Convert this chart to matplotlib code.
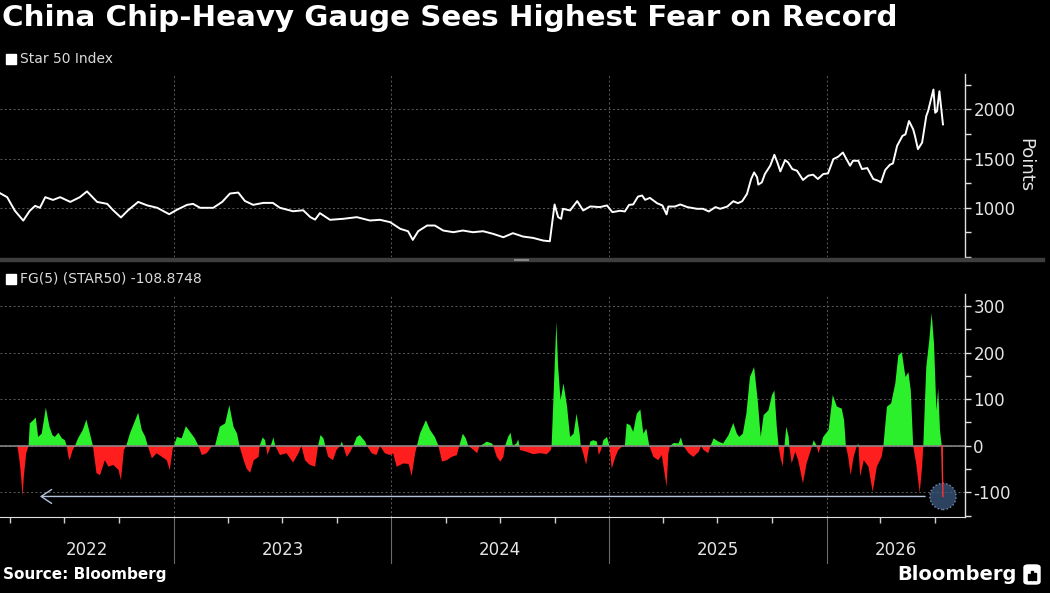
import matplotlib
matplotlib.use('Agg')
import matplotlib.pyplot as plt
import matplotlib.dates as mdates
import matplotlib.transforms as mtransforms
from matplotlib.patches import Rectangle, FancyBboxPatch
from matplotlib.lines import Line2D
import numpy as np
import pandas as pd

plt.rcParams['font.family'] = ['DejaVu Sans']
plt.rcParams['axes.unicode_minus'] = False

# ---- data ----
star_dates = [
    "2022-03-15", "2022-03-27", "2022-04-09", "2022-04-23", "2022-05-04", "2022-05-13", "2022-05-21", "2022-05-30",
    "2022-06-12", "2022-06-24", "2022-07-11", "2022-07-27", "2022-08-08", "2022-08-25", "2022-09-11", "2022-09-21",
    "2022-10-04", "2022-10-16", "2022-11-02", "2022-11-17", "2022-12-04", "2022-12-24",
    "2023-01-06", "2023-01-23", "2023-02-02", "2023-02-14", "2023-03-08", "2023-03-23", "2023-04-05", "2023-04-19",
    "2023-04-30", "2023-05-14", "2023-05-31", "2023-06-16", "2023-06-28", "2023-07-20", "2023-08-06", "2023-08-18",
    "2023-08-26", "2023-09-03", "2023-09-20", "2023-10-12", "2023-11-04", "2023-11-26", "2023-12-13", "2023-12-30",
    "2024-01-16", "2024-01-29", "2024-02-06", "2024-02-15", "2024-03-01", "2024-03-14", "2024-03-28", "2024-04-14",
    "2024-04-30", "2024-05-17", "2024-06-03", "2024-06-20", "2024-07-07", "2024-07-23", "2024-08-09", "2024-08-26",
    "2024-09-12", "2024-09-23", "2024-10-01", "2024-10-07", "2024-10-12", "2024-10-15", "2024-10-27", "2024-11-08",
    "2024-11-18", "2024-11-30", "2024-12-16", "2024-12-28",
    "2025-01-06", "2025-01-19", "2025-01-27", "2025-02-03", "2025-02-10", "2025-02-18", "2025-02-25", "2025-03-02",
    "2025-03-10", "2025-03-22", "2025-03-31", "2025-04-07", "2025-04-10", "2025-04-21", "2025-04-30", "2025-05-12",
    "2025-05-28", "2025-06-07", "2025-06-17", "2025-06-28", "2025-07-06", "2025-07-18", "2025-07-28", "2025-08-05",
    "2025-08-12", "2025-08-20", "2025-08-27", "2025-09-01", "2025-09-06", "2025-09-08", "2025-09-14", "2025-09-19",
    "2025-09-28", "2025-10-05", "2025-10-10", "2025-10-15", "2025-10-23", "2025-10-28", "2025-11-04", "2025-11-12",
    "2025-11-22", "2025-12-01", "2025-12-09", "2025-12-17", "2025-12-26",
    "2026-01-03", "2026-01-12", "2026-01-20", "2026-01-28", "2026-02-09", "2026-02-14", "2026-02-23", "2026-03-01",
    "2026-03-10", "2026-03-20", "2026-03-28", "2026-04-02", "2026-04-09", "2026-04-17", "2026-04-22", "2026-04-29",
    "2026-05-08", "2026-05-13", "2026-05-19", "2026-05-26", "2026-05-29", "2026-06-03", "2026-06-10", "2026-06-17",
    "2026-06-20", "2026-06-29", "2026-07-02", "2026-07-05", "2026-07-09", "2026-07-12", "2026-07-15",
]
star_vals = [
    1149, 1108, 970, 870, 970, 1020, 1000, 1108,
    1080, 1108, 1060, 1108, 1167, 1060, 1040, 975,
    902, 975, 1060, 1025, 1000, 935,
    980, 1030, 1040, 1000, 1000, 1060, 1145, 1155,
    1070, 1030, 1050, 1050, 1000, 965, 975, 905,
    880, 946, 878, 888, 905, 871, 878, 854,
    786, 762, 674, 762, 820, 820, 769, 752,
    769, 752, 762, 735, 701, 742, 708, 694,
    667, 660, 1034, 905, 888, 990, 973, 1068,
    973, 1014, 1007, 1024,
    956, 970, 963, 1030, 1034, 1114, 1125, 1081,
    1101, 1047, 1024, 933, 1013, 1013, 1034, 1007,
    990, 990, 963, 1007, 990, 1013, 1067, 1047,
    1067, 1141, 1293, 1360, 1310, 1236, 1259, 1343,
    1428, 1539, 1461, 1370, 1485, 1461, 1394, 1377,
    1283, 1327, 1337, 1293, 1343,
    1350, 1495, 1519, 1562, 1428, 1478, 1478, 1394,
    1404, 1293, 1276, 1259, 1384, 1438, 1451, 1630,
    1731, 1747, 1882, 1798, 1731, 1596, 1663, 1933,
    1983, 2202, 1966, 1983, 2185, 2017, 1848,
]

fg_dates = [
    "2022-04-13", "2022-04-16", "2022-04-19", "2022-04-22", "2022-04-24", "2022-04-28", "2022-05-02", "2022-05-04",
    "2022-05-10", "2022-05-14", "2022-05-18", "2022-05-24", "2022-05-31", "2022-06-06", "2022-06-11", "2022-06-15",
    "2022-06-21", "2022-06-27", "2022-07-02", "2022-07-05", "2022-07-08", "2022-07-10", "2022-07-15", "2022-07-19",
    "2022-07-24", "2022-08-01", "2022-08-07", "2022-08-13", "2022-08-18", "2022-08-24", "2022-08-30", "2022-09-07",
    "2022-09-13", "2022-09-21", "2022-09-30", "2022-10-04", "2022-10-09", "2022-10-13", "2022-10-19", "2022-10-28",
    "2022-11-02", "2022-11-08", "2022-11-14", "2022-11-18", "2022-11-25", "2022-12-03", "2022-12-12", "2022-12-20",
    "2022-12-25", "2022-12-30",
    "2023-01-01", "2023-01-06", "2023-01-14", "2023-01-21", "2023-01-28", "2023-02-05", "2023-02-11", "2023-02-17",
    "2023-02-25", "2023-03-05", "2023-03-11", "2023-03-19", "2023-03-28", "2023-04-04", "2023-04-11", "2023-04-17",
    "2023-04-21", "2023-04-28", "2023-05-03", "2023-05-09", "2023-05-15", "2023-05-23", "2023-05-25", "2023-05-30",
    "2023-06-03", "2023-06-07", "2023-06-11", "2023-06-17", "2023-06-20", "2023-06-28", "2023-07-09", "2023-07-20",
    "2023-07-29", "2023-08-03", "2023-08-09", "2023-08-17", "2023-08-26", "2023-08-31", "2023-09-04", "2023-09-09",
    "2023-09-12", "2023-09-17", "2023-09-25", "2023-10-01", "2023-10-07", "2023-10-10", "2023-10-12", "2023-10-18",
    "2023-10-24", "2023-10-29", "2023-11-04", "2023-11-09", "2023-11-18", "2023-11-21", "2023-11-29", "2023-12-07",
    "2023-12-13", "2023-12-21", "2023-12-30",
    "2024-01-04", "2024-01-10", "2024-01-21", "2024-01-30", "2024-02-04", "2024-02-10", "2024-02-13", "2024-02-18",
    "2024-02-28", "2024-03-06", "2024-03-14", "2024-03-20", "2024-03-26", "2024-04-03", "2024-04-11", "2024-04-20",
    "2024-04-24", "2024-04-30", "2024-05-05", "2024-05-09", "2024-05-18", "2024-05-24", "2024-05-28", "2024-06-04",
    "2024-06-09", "2024-06-18", "2024-06-20", "2024-06-26", "2024-07-02", "2024-07-07", "2024-07-10", "2024-07-15",
    "2024-07-19", "2024-07-23", "2024-07-29", "2024-08-01", "2024-08-04", "2024-08-15", "2024-08-26", "2024-09-07",
    "2024-09-18", "2024-09-25", "2024-09-26", "2024-09-29", "2024-10-04", "2024-10-07", "2024-10-11", "2024-10-16",
    "2024-10-22", "2024-10-27", "2024-11-02", "2024-11-07", "2024-11-12", "2024-11-14", "2024-11-18", "2024-11-23",
    "2024-11-27", "2024-11-30", "2024-12-05", "2024-12-11", "2024-12-14", "2024-12-18", "2024-12-22", "2024-12-28",
    "2025-01-01", "2025-01-05", "2025-01-11", "2025-01-16", "2025-01-22", "2025-01-27", "2025-01-30", "2025-02-05",
    "2025-02-10", "2025-02-16", "2025-02-22", "2025-02-27", "2025-03-04", "2025-03-09", "2025-03-16", "2025-03-24",
    "2025-03-30", "2025-04-07", "2025-04-10", "2025-04-13", "2025-04-19", "2025-04-27", "2025-05-01", "2025-05-05",
    "2025-05-14", "2025-05-22", "2025-05-31", "2025-06-04", "2025-06-08", "2025-06-16", "2025-06-20", "2025-06-25",
    "2025-07-03", "2025-07-11", "2025-07-20", "2025-07-28", "2025-08-03", "2025-08-07", "2025-08-13", "2025-08-19",
    "2025-08-25", "2025-09-01", "2025-09-07", "2025-09-12", "2025-09-17", "2025-09-25", "2025-10-01", "2025-10-05",
    "2025-10-09", "2025-10-12", "2025-10-15", "2025-10-19", "2025-10-21", "2025-10-25", "2025-10-29", "2025-10-30",
    "2025-11-03", "2025-11-09", "2025-11-14", "2025-11-22", "2025-11-28", "2025-12-07", "2025-12-10", "2025-12-15",
    "2025-12-18", "2025-12-22", "2025-12-26",
    "2026-01-04", "2026-01-11", "2026-01-18", "2026-01-26", "2026-01-30", "2026-02-02", "2026-02-06", "2026-02-10",
    "2026-02-15", "2026-02-20", "2026-02-23", "2026-02-26", "2026-03-04", "2026-03-12", "2026-03-19", "2026-03-26",
    "2026-04-03", "2026-04-06", "2026-04-12", "2026-04-19", "2026-04-26", "2026-05-01", "2026-05-07", "2026-05-13",
    "2026-05-18", "2026-05-22", "2026-05-26", "2026-05-31", "2026-06-06", "2026-06-10", "2026-06-12", "2026-06-17",
    "2026-06-22", "2026-06-26", "2026-06-30", "2026-07-04", "2026-07-07", "2026-07-10", "2026-07-13", "2026-07-15",
]
fg_vals = [
    0, -24, -59, -109, -66, -16, 0, 48,
    55, 61, 19, 26, 82, 41, 23, 19,
    28, 16, 12, 0, -24, -31, -9, 0,
    16, 34, 56, 26, 0, -59, -63, -31,
    -45, -41, -52, -74, -9, 0, 26, 55,
    71, 34, 19, 0, -27, -16, -24, -31,
    -52, -6,
    0, 19, 16, 42, 30, 16, 0, -20,
    -16, -2, 0, 41, 48, 87, 41, 26,
    0, -31, -49, -58, -31, -24, 0, 18,
    12, -20, -6, 18, 0, -20, -16, -36,
    -16, 0, -31, -41, -45, 0, 23, 16,
    0, -24, -31, -9, 0, 9, 0, -24,
    -13, 0, 19, 23, 9, 0, -16, -20,
    0, -16, -20,
    -16, -45, -38, -39, -65, -16, 0, 26,
    55, 34, 19, 0, -34, -31, -24, -20,
    0, 26, 16, 0, -9, -16, 0, 4,
    9, 5, 0, -24, -34, -24, 0, 19,
    28, 0, 5, 14, -9, -13, -18, -16,
    -18, -9, 0, 98, 266, 169, 98, 134,
    84, 19, 26, 69, 26, 0, -16, -41,
    -9, 9, 12, 9, -20, -9, 12, 19,
    0, -49, -24, -9, -2, 0, 48, 44,
    30, 69, 78, 26, 37, 0, -24, -31,
    -20, -88, -16, 0, 6, 5, 18, 0,
    -16, -24, -13, 0, -9, -16, 0, 16,
    9, 5, 23, 49, 26, 19, 26, 69,
    148, 169, 98, 19, 66, 76, 109, 119,
    41, 0, -24, -45, -13, 41, 19, 0,
    -38, -13, -31, -81, -38, -2, 12, 0,
    -16, 0, 19,
    34, 109, 84, 80, 55, 0, -24, -63,
    -24, -2, 5, -66, -31, -45, -99, -45,
    -24, 0, 84, 91, 134, 194, 201, 148,
    158, 119, 0, -38, -101, -45, 0, 169,
    226, 285, 219, 76, 123, 34, 0, -108.8748,
]

years = [2022, 2023, 2024, 2025, 2026]
x_start, x_end = "2022-03-15", "2026-08-21"
arrow_from, arrow_to = "2026-06-15", "2022-05-21"

title = "China Chip-Heavy Gauge Sees Highest Fear on Record"

# ---- figure ----
W, H = 1050, 593
fig = plt.figure(figsize=(W / 100, H / 100), dpi=100, facecolor='black')


def box(l, t, r, b):
    return [l / W, 1 - b / H, (r - l) / W, (b - t) / H]


ax1 = fig.add_axes(box(0, 74, 965, 257))
ax2 = fig.add_axes(box(0, 294, 965, 517))

sx = pd.to_datetime(star_dates)
fx = pd.to_datetime(fg_dates)
fy = np.array(fg_vals, dtype=float)
xlim = (pd.Timestamp(x_start), pd.Timestamp(x_end))

grid_kw = dict(color='#5c5c5c', linestyle=(0, (2, 2.5)), linewidth=0.7)
txt_col = '#e4e4e4'

for ax in (ax1, ax2):
    ax.set_facecolor('black')
    ax.set_xlim(*xlim)
    for s in ('top', 'left'):
        ax.spines[s].set_visible(False)
    ax.spines['right'].set_color('#e0e0e0')
    ax.spines['right'].set_linewidth(1.0)
    ax.yaxis.tick_right()
    ax.tick_params(axis='y', which='both', direction='out', colors='#e0e0e0',
                   labelcolor=txt_col, labelsize=12, pad=2)
    ax.tick_params(axis='y', which='major', length=4, width=1)
    ax.tick_params(axis='y', which='minor', length=4, width=1)
    ax.xaxis.set_major_locator(mdates.YearLocator())
    ax.grid(axis='x', which='major', **grid_kw)
    ax.grid(axis='y', which='major', **grid_kw)
    ax.set_axisbelow(True)

# top panel: Star 50 index
ax1.plot(sx, star_vals, color='white', linewidth=1.4, zorder=3)
ax1.set_ylim(500, 2360)
ax1.set_yticks([1000, 1500, 2000])
ax1.set_yticks([500, 750, 1250, 1750, 2250], minor=True)
ax1.spines['bottom'].set_visible(False)
ax1.tick_params(axis='x', which='both', length=0, labelbottom=False)

# bottom panel: fear/greed gauge
ax2.fill_between(fx, fy, 0, where=fy >= 0, interpolate=True, color='#2cf02c', linewidth=0, zorder=2)
ax2.fill_between(fx, fy, 0, where=fy <= 0, interpolate=True, color='#ff1e1e', linewidth=0, zorder=2)
ax2.axhline(0, color='#8c8c8c', linewidth=1.1, zorder=3)
ax2.set_ylim(-153, 326)
ax2.set_yticks([-100, 0, 100, 200, 300])
ax2.set_yticks([-150, -50, 50, 150, 250], minor=True)
ax2.spines['bottom'].set_color('#e0e0e0')
ax2.xaxis.set_minor_locator(mdates.MonthLocator(bymonth=[4, 7, 10]))
ax2.tick_params(axis='x', which='major', length=0, labelbottom=False)
ax2.tick_params(axis='x', which='minor', length=4, width=1, colors='#cfcfcf')

# arrow and marker at the latest reading
ax2.annotate('', xy=(pd.Timestamp(arrow_to), fy[-1]), xytext=(pd.Timestamp(arrow_from), fy[-1]),
             arrowprops=dict(arrowstyle='->, head_length=0.75, head_width=0.5', color='#b4c2dc',
                             linewidth=1.0, shrinkA=0, shrinkB=0), zorder=4)
ax2.scatter([fx[-1]], [fy[-1]], s=360, color='#3e5d84', alpha=0.72, edgecolors='#9fb4d2',
            linewidths=1.0, linestyle=':', zorder=5, clip_on=False)
ax2.plot(fx[-2:], fy[-2:], color='#ff3030', linewidth=1.0, zorder=6)

# year labels and separators below the bottom panel
trans = mtransforms.blended_transform_factory(ax2.transData, ax2.transAxes)
for y in years:
    a = max(pd.Timestamp(f"{y}-01-01"), xlim[0])
    b = min(pd.Timestamp(f"{y + 1}-01-01"), xlim[1])
    mid = a + (b - a) / 2
    ax2.text(mid, -0.148, str(y), transform=trans, ha='center', va='center',
             color=txt_col, fontsize=12)
    if pd.Timestamp(f"{y}-01-01") > xlim[0]:
        ax2.plot([pd.Timestamp(f"{y}-01-01")] * 2, [0, -0.205], transform=trans,
                 color='#6a6a6a', linewidth=0.8, clip_on=False)

# divider between panels
fig.add_artist(Line2D([0, 1043 / W], [1 - 260 / H] * 2, transform=fig.transFigure,
                      color='#3e3e3e', linewidth=3.2))
fig.add_artist(Line2D([515 / W, 528 / W], [1 - 259.5 / H] * 2, transform=fig.transFigure,
                      color='#858585', linewidth=1.5))

# legends
for top, label in ((54, "Star 50 Index"), (274, f"FG(5) (STAR50) {fg_vals[-1]:.4f}")):
    fig.add_artist(Rectangle((6 / W, 1 - (top + 10) / H), 10 / W, 10 / H,
                             transform=fig.transFigure, color='white'))
    fig.text(20 / W, 1 - (top + 5) / H, label, color='#dadada', fontsize=10, va='center', ha='left')

fig.text(1025 / W, 1 - 165 / H, "Points", rotation=-90, color=txt_col, fontsize=13,
         ha='center', va='center')

# title, fitted to the reference width
t = fig.text(2 / W, 1 - 18 / H, title, color='white', fontsize=22, weight='bold',
             ha='left', va='center')
fig.canvas.draw()
w = t.get_window_extent().width
t.set_fontsize(22 * 891 / w)

# footer
fig.text(3 / W, 1 - 575 / H, "Source: Bloomberg", color='white', fontsize=11, weight='bold',
         ha='left', va='center')
fig.text(1017 / W, 1 - 574 / H, "Bloomberg", color='white', fontsize=14, weight='bold',
         ha='right', va='center')
fig.add_artist(FancyBboxPatch((1024 / W, 1 - 584 / H), 16 / W, 19 / H, transform=fig.transFigure,
                              boxstyle='round,pad=0,rounding_size=0.004', color='white'))
for bx, bh in ((1028, 6), (1031, 9), (1034, 7)):
    fig.add_artist(Rectangle((bx / W, 1 - 580 / H), 2 / W, bh / H, transform=fig.transFigure,
                             color='black'))

fig.savefig('out.png', dpi=100, facecolor='black')
